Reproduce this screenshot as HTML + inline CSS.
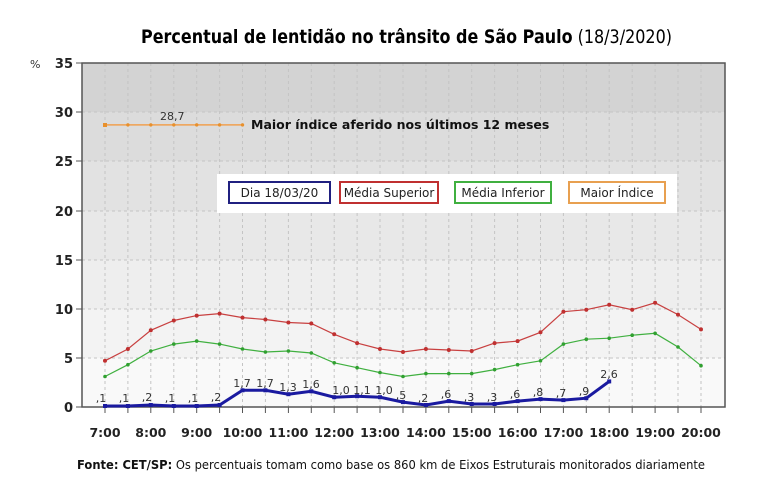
<!DOCTYPE html>
<html><head><meta charset="utf-8"><style>
body{margin:0;background:#fff}
svg{display:block}
text{font-family:"DejaVu Sans","Liberation Sans",sans-serif}
</style></head><body>
<svg width="761" height="485" viewBox="0 0 761 485" xmlns="http://www.w3.org/2000/svg">
<rect width="761" height="485" fill="#fff"/>
<text x="141" y="43" font-family="Liberation Sans" font-size="19" textLength="531" lengthAdjust="spacingAndGlyphs"><tspan font-weight="bold">Percentual de lentidão no trânsito de São Paulo</tspan> (18/3/2020)</text>
<!-- bands -->
<rect x="82" y="63" width="643" height="49" fill="#d3d3d3"/>
<rect x="82" y="112" width="643" height="49" fill="#dcdcdc"/>
<rect x="82" y="161" width="643" height="50" fill="#e2e2e2"/>
<rect x="82" y="211" width="643" height="49" fill="#e8e8e8"/>
<rect x="82" y="260" width="643" height="49" fill="#eeeeee"/>
<rect x="82" y="309" width="643" height="49" fill="#f3f3f3"/>
<rect x="82" y="358" width="643" height="49" fill="#f9f9f9"/>
<!-- grid -->
<g stroke="#c4c4c4" stroke-dasharray="3,3" stroke-width="1">
<path d="M82 112H725M82 161H725M82 211H725M82 260H725M82 309H725M82 358H725"/>
<path d="M105 63V407M127.9 63V407M150.8 63V407M173.8 63V407M196.7 63V407M219.6 63V407M242.5 63V407M265.4 63V407M288.4 63V407M311.3 63V407M334.2 63V407M357.1 63V407M380 63V407M403 63V407M425.9 63V407M448.8 63V407M471.7 63V407M494.6 63V407M517.6 63V407M540.5 63V407M563.4 63V407M586.3 63V407M609.2 63V407M632.2 63V407M655.1 63V407M678 63V407M701 63V407"/>
</g>
<rect x="82" y="63" width="643" height="344" fill="none" stroke="#555" stroke-width="1.5"/>
<!-- ticks -->
<g stroke="#555" stroke-width="1">
<path d="M76 63H82M76 112H82M76 161H82M76 211H82M76 260H82M76 309H82M76 358H82M76 407H82"/>
<path d="M105 407V413M127.9 407V413M150.8 407V413M173.8 407V413M196.7 407V413M219.6 407V413M242.5 407V413M265.4 407V413M288.4 407V413M311.3 407V413M334.2 407V413M357.1 407V413M380 407V413M403 407V413M425.9 407V413M448.8 407V413M471.7 407V413M494.6 407V413M517.6 407V413M540.5 407V413M563.4 407V413M586.3 407V413M609.2 407V413M632.2 407V413M655.1 407V413M678 407V413M701 407V413"/>
</g>
<g font-size="13" font-weight="bold" fill="#222" text-anchor="end">
<text x="73" y="68">35</text><text x="73" y="117">30</text><text x="73" y="166">25</text><text x="73" y="216">20</text><text x="73" y="265">15</text><text x="73" y="314">10</text><text x="73" y="363">5</text><text x="73" y="412">0</text>
</g>
<text x="30" y="68" font-size="11" fill="#333">%</text>
<g font-size="12.5" font-weight="bold" fill="#222" text-anchor="middle">
<text x="105" y="437">7:00</text><text x="150.8" y="437">8:00</text><text x="196.7" y="437">9:00</text><text x="242.5" y="437">10:00</text><text x="288.4" y="437">11:00</text><text x="334.2" y="437">12:00</text><text x="380" y="437">13:00</text><text x="425.9" y="437">14:00</text><text x="471.7" y="437">15:00</text><text x="517.6" y="437">16:00</text><text x="563.4" y="437">17:00</text><text x="609.2" y="437">18:00</text><text x="655.1" y="437">19:00</text><text x="701" y="437">20:00</text>
</g>
<!-- orange -->
<polyline fill="none" stroke="#f0a050" stroke-width="1.5" points="105,124.9 127.9,124.9 150.8,124.9 173.8,124.9 196.7,124.9 219.6,124.9 242.5,124.9"/>
<g fill="#e8902c"><rect x="103" y="123" width="4" height="4"/><circle cx="127.9" cy="124.9" r="1.7"/><circle cx="150.8" cy="124.9" r="1.7"/><circle cx="173.8" cy="124.9" r="1.7"/><circle cx="196.7" cy="124.9" r="1.7"/><circle cx="219.6" cy="124.9" r="1.7"/><circle cx="242.5" cy="124.9" r="1.7"/></g>
<text x="160" y="120" font-size="11" fill="#333">28,7</text>
<text x="251" y="129" font-family="Liberation Sans" font-size="12.5" font-weight="bold" fill="#111">Maior índice aferido nos últimos 12 meses</text>
<!-- red -->
<polyline fill="none" stroke="#c84040" stroke-width="1.2" points="105,360.8 127.9,349 150.8,330.3 173.8,320.5 196.7,315.6 219.6,313.6 242.5,317.6 265.4,319.5 288.4,322.5 311.3,323.5 334.2,334.3 357.1,343.1 380,349 403,352 425.9,349 448.8,350 471.7,351 494.6,343.1 517.6,341.1 540.5,332.3 563.4,311.7 586.3,309.7 609.2,304.8 632.2,309.7 655.1,302.8 678,314.6 701,329.4"/>
<g fill="#c03030"><circle cx="105" cy="360.8" r="2"/><circle cx="127.9" cy="349" r="2"/><circle cx="150.8" cy="330.3" r="2"/><circle cx="173.8" cy="320.5" r="2"/><circle cx="196.7" cy="315.6" r="2"/><circle cx="219.6" cy="313.6" r="2"/><circle cx="242.5" cy="317.6" r="2"/><circle cx="265.4" cy="319.5" r="2"/><circle cx="288.4" cy="322.5" r="2"/><circle cx="311.3" cy="323.5" r="2"/><circle cx="334.2" cy="334.3" r="2"/><circle cx="357.1" cy="343.1" r="2"/><circle cx="380" cy="349" r="2"/><circle cx="403" cy="352" r="2"/><circle cx="425.9" cy="349" r="2"/><circle cx="448.8" cy="350" r="2"/><circle cx="471.7" cy="351" r="2"/><circle cx="494.6" cy="343.1" r="2"/><circle cx="517.6" cy="341.1" r="2"/><circle cx="540.5" cy="332.3" r="2"/><circle cx="563.4" cy="311.7" r="2"/><circle cx="586.3" cy="309.7" r="2"/><circle cx="609.2" cy="304.8" r="2"/><circle cx="632.2" cy="309.7" r="2"/><circle cx="655.1" cy="302.8" r="2"/><circle cx="678" cy="314.6" r="2"/><circle cx="701" cy="329.4" r="2"/></g>
<!-- green -->
<polyline fill="none" stroke="#40b040" stroke-width="1.2" points="105,376.5 127.9,364.7 150.8,351 173.8,344.1 196.7,341.1 219.6,344.1 242.5,349 265.4,352 288.4,351 311.3,353 334.2,362.8 357.1,367.7 380,372.6 403,376.5 425.9,373.6 448.8,373.6 471.7,373.6 494.6,369.6 517.6,364.7 540.5,360.8 563.4,344.1 586.3,339.2 609.2,338.2 632.2,335.2 655.1,333.3 678,347 701,365.7"/>
<g fill="#30a030"><circle cx="105" cy="376.5" r="1.8"/><circle cx="127.9" cy="364.7" r="1.8"/><circle cx="150.8" cy="351" r="1.8"/><circle cx="173.8" cy="344.1" r="1.8"/><circle cx="196.7" cy="341.1" r="1.8"/><circle cx="219.6" cy="344.1" r="1.8"/><circle cx="242.5" cy="349" r="1.8"/><circle cx="265.4" cy="352" r="1.8"/><circle cx="288.4" cy="351" r="1.8"/><circle cx="311.3" cy="353" r="1.8"/><circle cx="334.2" cy="362.8" r="1.8"/><circle cx="357.1" cy="367.7" r="1.8"/><circle cx="380" cy="372.6" r="1.8"/><circle cx="403" cy="376.5" r="1.8"/><circle cx="425.9" cy="373.6" r="1.8"/><circle cx="448.8" cy="373.6" r="1.8"/><circle cx="471.7" cy="373.6" r="1.8"/><circle cx="494.6" cy="369.6" r="1.8"/><circle cx="517.6" cy="364.7" r="1.8"/><circle cx="540.5" cy="360.8" r="1.8"/><circle cx="563.4" cy="344.1" r="1.8"/><circle cx="586.3" cy="339.2" r="1.8"/><circle cx="609.2" cy="338.2" r="1.8"/><circle cx="632.2" cy="335.2" r="1.8"/><circle cx="655.1" cy="333.3" r="1.8"/><circle cx="678" cy="347" r="1.8"/><circle cx="701" cy="365.7" r="1.8"/></g>
<!-- blue -->
<polyline fill="none" stroke="#1a1aa0" stroke-width="3" points="105,406 127.9,406 150.8,405 173.8,406 196.7,406 219.6,405 242.5,390.3 265.4,390.3 288.4,394.2 311.3,391.3 334.2,397.2 357.1,396.2 380,397.2 403,402.1 425.9,405 448.8,401.1 471.7,404 494.6,404 517.6,401.1 540.5,399.1 563.4,400.1 586.3,398.2 609.2,381.4"/>
<g fill="#1a1aa0"><rect x="103" y="404" width="4" height="4"/><rect x="125.9" y="404" width="4" height="4"/><rect x="148.8" y="403" width="4" height="4"/><rect x="171.8" y="404" width="4" height="4"/><rect x="194.7" y="404" width="4" height="4"/><rect x="217.6" y="403" width="4" height="4"/><rect x="240.5" y="388.3" width="4" height="4"/><rect x="263.4" y="388.3" width="4" height="4"/><rect x="286.4" y="392.2" width="4" height="4"/><rect x="309.3" y="389.3" width="4" height="4"/><rect x="332.2" y="395.2" width="4" height="4"/><rect x="355.1" y="394.2" width="4" height="4"/><rect x="378" y="395.2" width="4" height="4"/><rect x="401" y="400.1" width="4" height="4"/><rect x="423.9" y="403" width="4" height="4"/><rect x="446.8" y="399.1" width="4" height="4"/><rect x="469.7" y="402" width="4" height="4"/><rect x="492.6" y="402" width="4" height="4"/><rect x="515.6" y="399.1" width="4" height="4"/><rect x="538.5" y="397.1" width="4" height="4"/><rect x="561.4" y="398.1" width="4" height="4"/><rect x="584.3" y="396.2" width="4" height="4"/><rect x="607.2" y="379.4" width="4" height="4"/></g>
<g font-size="11" fill="#333" text-anchor="middle">
<text x="101" y="402">,1</text><text x="124" y="402">,1</text><text x="147" y="401">,2</text><text x="170" y="402">,1</text><text x="193" y="402">,1</text><text x="216" y="401">,2</text>
<text x="242" y="387">1,7</text><text x="265" y="387">1,7</text><text x="288" y="391">1,3</text><text x="311" y="388">1,6</text><text x="341" y="394">1,0</text><text x="362" y="394">1,1</text><text x="384" y="394">1,0</text><text x="401" y="399">,5</text>
<text x="423" y="402">,2</text><text x="446" y="398">,6</text><text x="469" y="401">,3</text><text x="492" y="401">,3</text><text x="515" y="398">,6</text><text x="538" y="396">,8</text><text x="561" y="397">,7</text><text x="584" y="395">,9</text><text x="609" y="378">2,6</text>
</g>
<!-- legend -->
<rect x="217" y="174" width="460" height="39" fill="#fff"/>
<g font-family="Liberation Sans" font-size="12" fill="#222" text-anchor="middle" stroke-width="2">
<rect x="229" y="182" width="101" height="21" fill="none" stroke="#202080"/><text x="279.5" y="197">Dia 18/03/20</text>
<rect x="340" y="182" width="98" height="21" fill="none" stroke="#c03030"/><text x="389" y="197">Média Superior</text>
<rect x="455" y="182" width="96" height="21" fill="none" stroke="#40b040"/><text x="503" y="197">Média Inferior</text>
<rect x="569" y="182" width="96" height="21" fill="none" stroke="#e8a050"/><text x="617" y="197">Maior Índice</text>
</g>
<text x="77" y="469" font-family="Liberation Sans" font-size="12" fill="#111" textLength="628" lengthAdjust="spacingAndGlyphs"><tspan font-weight="bold">Fonte: CET/SP:</tspan> Os percentuais tomam como base os 860 km de Eixos Estruturais monitorados diariamente</text>
</svg>
</body></html>
